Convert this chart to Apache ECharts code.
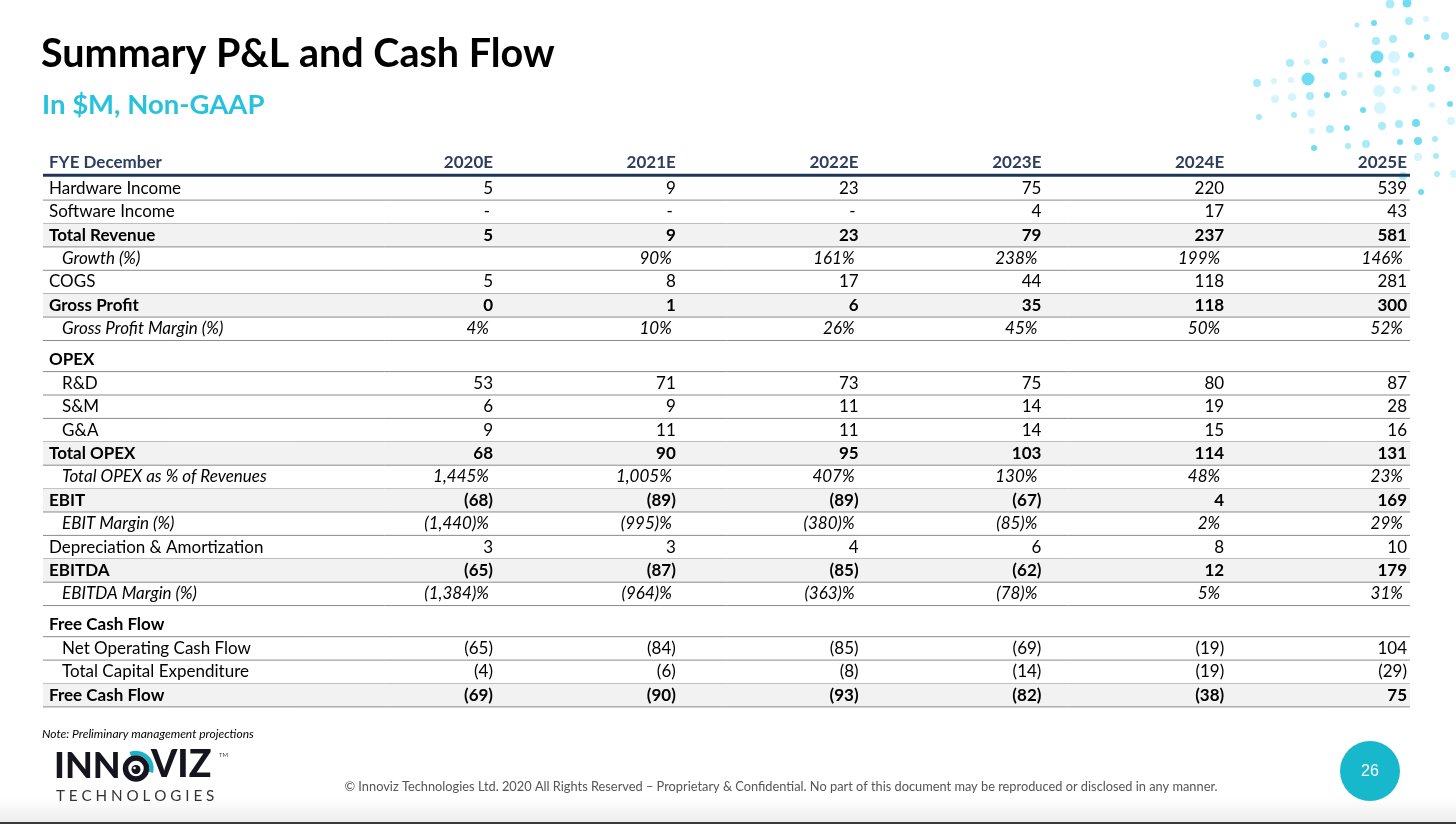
<!DOCTYPE html>
<html>
<head>
<meta charset="utf-8">
<script src="https://cdn.jsdelivr.net/npm/echarts@6/dist/echarts.min.js"></script>
<style>
  html, body { margin: 0; padding: 0; background: #fff; }
  #main { width: 1456px; height: 824px; }
</style>
</head>
<body>
<div id="main"></div>
<script>
// table data ($M)
const years = ['2020E', '2021E', '2022E', '2023E', '2024E', '2025E'];
const hardwareIncome = [5, 9, 23, 75, 220, 539];
const softwareIncome = ['-', '-', '-', 4, 17, 43];
const totalRevenue = [5, 9, 23, 79, 237, 581];
const growthPct = [null, 90, 161, 238, 199, 146];
const cogs = [5, 8, 17, 44, 118, 281];
const grossProfit = [0, 1, 6, 35, 118, 300];
const grossMarginPct = [4, 10, 26, 45, 50, 52];
const rnd = [53, 71, 73, 75, 80, 87];
const snm = [6, 9, 11, 14, 19, 28];
const gna = [9, 11, 11, 14, 15, 16];
const totalOpex = [68, 90, 95, 103, 114, 131];
const opexPctOfRevenue = [1445, 1005, 407, 130, 48, 23];
const ebit = [-68, -89, -89, -67, 4, 169];
const ebitMarginPct = [-1440, -995, -380, -85, 2, 29];
const depreciation = [3, 3, 4, 6, 8, 10];
const ebitda = [-65, -87, -85, -62, 12, 179];
const ebitdaMarginPct = [-1384, -964, -363, -78, 5, 31];
const netOperatingCashFlow = [-65, -84, -85, -69, -19, 104];
const capex = [-4, -6, -8, -14, -19, -29];
const freeCashFlow = [-69, -90, -93, -82, -38, 75];

// n = plain, i = indented, b = bold total (shaded), p = italic %, s = section heading
const rows = [
  ['Hardware Income', hardwareIncome, 'n'],
  ['Software Income', softwareIncome, 'n'],
  ['Total Revenue', totalRevenue, 'b'],
  ['Growth (%)', growthPct, 'p'],
  ['COGS', cogs, 'n'],
  ['Gross Profit', grossProfit, 'b'],
  ['Gross Profit Margin (%)', grossMarginPct, 'p'],
  ['OPEX', null, 's'],
  ['R&D', rnd, 'i'],
  ['S&M', snm, 'i'],
  ['G&A', gna, 'i'],
  ['Total OPEX', totalOpex, 'b'],
  ['Total OPEX as % of Revenues', opexPctOfRevenue, 'p'],
  ['EBIT', ebit, 'b'],
  ['EBIT Margin (%)', ebitMarginPct, 'p'],
  ['Depreciation & Amortization', depreciation, 'n'],
  ['EBITDA', ebitda, 'b'],
  ['EBITDA Margin (%)', ebitdaMarginPct, 'p'],
  ['Free Cash Flow', null, 's'],
  ['Net Operating Cash Flow', netOperatingCashFlow, 'i'],
  ['Total Capital Expenditure', capex, 'i'],
  ['Free Cash Flow', freeCashFlow, 'b']
];

// decoration dots top right: [x, y, r, tone]
const dots = [
  [1390, 4, 4.5, 'b'], [1407, 3, 4.5, 'a'], [1357, 25, 2.5, 'b'], [1374, 23, 3, 'a'], [1409, 21, 4, 'b'],
  [1426, 19, 3, 'c'], [1323, 44, 4, 'c'], [1376, 41, 4, 'b'], [1393, 39, 4, 'b'], [1427, 37, 3, 'a'],
  [1445, 36, 4, 'b'], [1377, 57, 6.5, 'a'], [1394, 57, 6, 'c'], [1411, 55, 3, 'a'], [1290, 63, 4, 'b'],
  [1307, 62, 3, 'c'], [1325, 61, 3, 'a'], [1342, 60, 3, 'c'], [1343, 76, 4, 'b'], [1360, 75, 3, 'c'],
  [1378, 74, 3.5, 'a'], [1396, 72, 4, 'c'], [1430, 70, 3, 'b'], [1447, 69, 3, 'a'], [1257, 83, 4, 'b'],
  [1274, 81, 3, 'c'], [1291, 80, 3, 'c'], [1308, 79, 6.5, 'a'], [1275, 99, 4, 'c'], [1292, 97, 4, 'c'],
  [1310, 96, 4, 'b'], [1327, 95, 3, 'a'], [1344, 93, 3, 'b'], [1379, 91, 6, 'c'], [1397, 90, 4, 'c'],
  [1414, 88, 3, 'c'], [1431, 88, 4, 'b'], [1259, 117, 3, 'b'], [1294, 115, 3, 'b'], [1311, 113, 4, 'c'],
  [1363, 110, 3, 'a'], [1380, 108, 6, 'c'], [1432, 105, 3, 'c'], [1450, 104, 3, 'a'], [1312, 131, 3, 'c'],
  [1330, 129, 4, 'b'], [1347, 128, 3, 'a'], [1382, 126, 4, 'b'], [1399, 124, 4, 'b'], [1416, 123, 4, 'a'],
  [1451, 121, 4, 'c'], [1314, 148, 3, 'a'], [1348, 146, 3, 'b'], [1366, 144, 4, 'b'], [1400, 142, 3, 'a'],
  [1418, 141, 4, 'a'], [1435, 139, 3, 'b'], [1418, 157, 4, 'c'], [1436, 156, 3, 'b'], [1454, 174, 4, 'c'],
  [1437, 174, 3, 'b'], [1403, 176, 4, 'b'], [1421, 192, 3, 'a']
];
const dotColor = { a: '#6fdcf2', b: '#a9ebf8', c: '#d5f5fc' };

const FONT = 'Lato, "Open Sans", sans-serif';
const SIZE = '17px ';
const SECTION_H = 1.33;

function fmt(v, pct) {
  if (v === null || v === undefined) return '';
  if (typeof v === 'string') return v;
  const s = Math.abs(v).toLocaleString('en-US');
  const t = v < 0 ? '(' + s + ')' : s;
  return pct ? t + '%' : t;
}

// row placement in table units (1 unit = one plain row)
let acc = 1;
const layout = rows.map(function (r) {
  const h = r[2] === 's' ? SECTION_H : 1;
  const item = { top: acc, h: h };
  acc += h;
  return item;
});
const totalUnits = acc;

// right edge of each year column, in % of table width
function colX(j) { return 32.92 + j * 13.372; }

const chart = echarts.init(document.getElementById('main'));

function renderRow(params, api) {
  const i = params.dataIndex;
  const left = api.coord([0, 0])[0];
  const right = api.coord([100, 0])[0];
  if (i === 0) {
    // header row
    const yb = api.coord([0, 1])[1];
    const hf = 'bold ' + SIZE + FONT;
    const kids = [
      { type: 'line', shape: { x1: left, y1: yb - 1.5, x2: right, y2: yb - 1.5 }, style: { stroke: '#1f3556', lineWidth: 3 } },
      { type: 'text', style: { x: left + 6, y: yb - 14, text: 'FYE December', font: hf, fill: '#2c3e5f', textAlign: 'left', textVerticalAlign: 'middle' } }
    ];
    years.forEach(function (y, j) {
      kids.push({ type: 'text', style: { x: api.coord([colX(j), 0])[0], y: yb - 14, text: y, font: hf, fill: '#2c3e5f', textAlign: 'right', textVerticalAlign: 'middle' } });
    });
    return { type: 'group', children: kids };
  }
  const r = rows[i - 1];
  const L = layout[i - 1];
  const kind = r[2];
  const yt = api.coord([0, L.top])[1];
  const yb = api.coord([0, L.top + L.h])[1];
  const ym = api.coord([0, L.top + L.h - 0.5])[1];
  const kids = [];
  if (kind === 'b') {
    kids.push({ type: 'rect', shape: { x: left, y: yt, width: right - left, height: yb - yt }, style: { fill: '#f2f2f2' } });
  }
  kids.push({ type: 'line', shape: { x1: left, y1: yb, x2: right, y2: yb }, style: { stroke: '#8a8a8a', lineWidth: 1 } });
  const bold = kind === 'b' || kind === 's';
  const italic = kind === 'p';
  const indent = (kind === 'p' || kind === 'i') ? 19 : 6;
  const font = (italic ? 'italic ' : '') + (bold ? 'bold ' : '') + SIZE + FONT;
  kids.push({ type: 'text', style: { x: left + indent, y: ym, text: r[0], font: font, fill: '#000', textAlign: 'left', textVerticalAlign: 'middle' } });
  if (r[1]) {
    r[1].forEach(function (v, j) {
      const off = italic ? -4 : (v === '-' ? -3 : 0);
      kids.push({ type: 'text', style: { x: api.coord([colX(j), 0])[0] + off, y: ym, text: fmt(v, italic), font: font, fill: '#000', textAlign: 'right', textVerticalAlign: 'middle' } });
    });
  }
  return { type: 'group', children: kids };
}

const rowData = [[0]].concat(rows.map(function (r, i) { return [i + 1]; }));

const graphics = [];
dots.forEach(function (d) {
  graphics.push({ type: 'circle', shape: { cx: d[0], cy: d[1], r: d[2] }, style: { fill: dotColor[d[3]] }, silent: true });
});
graphics.push(
  { type: 'text', left: 41, top: 34, style: { text: 'Summary P&L and Cash Flow', font: 'bold 39.5px ' + FONT, fill: '#000' } },
  { type: 'text', left: 42, top: 91, style: { text: 'In $M, Non-GAAP', font: 'bold 27.5px ' + FONT, fill: '#29c2dc' } },
  { type: 'text', left: 42, top: 728, style: { text: 'Note: Preliminary management projections', font: 'italic 12px ' + FONT, fill: '#000' } },
  // footer band
  { type: 'rect', shape: { x: 0, y: 798, width: 1456, height: 24 }, style: { fill: new echarts.graphic.LinearGradient(0, 0, 0, 1, [{ offset: 0, color: '#ffffff' }, { offset: 1, color: '#ededed' }]) }, silent: true },
  { type: 'rect', shape: { x: 0, y: 822, width: 1456, height: 2 }, style: { fill: '#3b3b3b' }, silent: true },
  { type: 'text', x: 781, y: 787, style: { text: '\u00a9 Innoviz Technologies Ltd. 2020 All Rights Reserved \u2013 Proprietary & Confidential. No part of this document may be reproduced or disclosed in any manner.', font: '12.8px ' + FONT, fill: '#555', textAlign: 'center', textVerticalAlign: 'middle' } },
  { type: 'circle', shape: { cx: 1370, cy: 771, r: 30 }, style: { fill: '#17b8cc' } },
  { type: 'text', x: 1370, y: 772, style: { text: '26', font: '16px "Liberation Sans", Arial, sans-serif', fill: '#fff', textAlign: 'center', textVerticalAlign: 'middle' } },
  // logo
  { type: 'text', x: 54, y: 784, style: { text: 'INN', font: '900 36px ' + FONT, fill: '#15151f', textAlign: 'left', textVerticalAlign: 'bottom' } },
  { type: 'arc', shape: { cx: 136, cy: 768.5, r: 15.5, startAngle: -Math.PI * 0.62, endAngle: Math.PI * 0.08 }, style: { stroke: '#1ab3c9', lineWidth: 4.5, fill: null } },
  { type: 'circle', shape: { cx: 136, cy: 768.5, r: 10.5 }, style: { fill: 'none', stroke: '#15151f', lineWidth: 5.5 } },
  { type: 'circle', shape: { cx: 136, cy: 769.5, r: 4.5 }, style: { fill: '#15151f' } },
  { type: 'circle', shape: { cx: 134.5, cy: 768, r: 1.3 }, style: { fill: '#fff' } },
  { type: 'text', x: 151, y: 784, style: { text: 'VIZ', font: '900 37.5px ' + FONT, fill: '#15151f', textAlign: 'left', textVerticalAlign: 'bottom' } },
  { type: 'text', x: 219, y: 752, style: { text: 'TM', font: '6px ' + FONT, fill: '#444' } },
  { type: 'text', x: 56, y: 796, style: { text: 'T E C H N O L O G I E S', font: '15.2px ' + FONT, fill: '#333', textAlign: 'left', textVerticalAlign: 'middle' } }
);

chart.setOption({
  animation: false,
  grid: { left: 43, right: 46, top: 153.3, bottom: 117.1 },
  xAxis: { type: 'value', min: 0, max: 100, show: false },
  yAxis: { type: 'value', min: 0, max: totalUnits, inverse: true, show: false },
  series: [{
    type: 'custom',
    renderItem: renderRow,
    clip: false,
    data: rowData
  }],
  graphic: graphics
});
</script>
</body>
</html>
